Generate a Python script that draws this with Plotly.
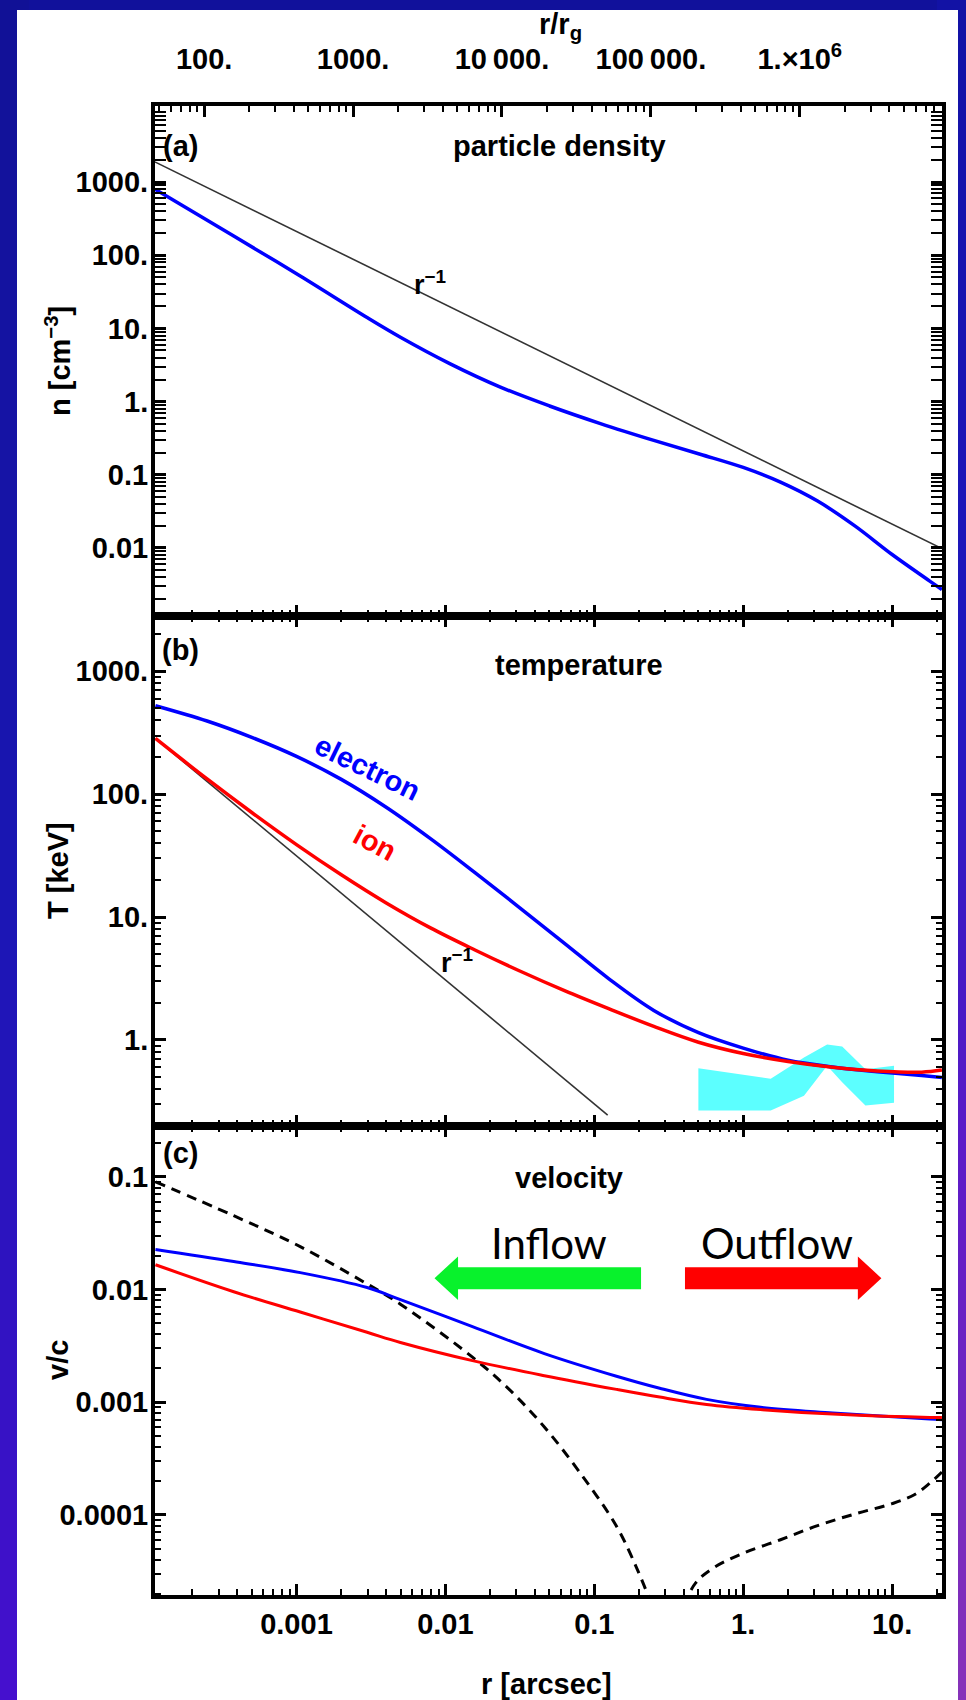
import math
import plotly.graph_objects as go

# ---------------- data ----------------
# (a) particle density  n [cm^-3]  vs  r [arcsec]
r_dens = [1.13e-4, 3.79e-4, 1.06e-3, 2.98e-3, 4.99e-3, 1.07e-2, 2.34e-2, 5.01e-2, 0.110,
          0.251, 0.514, 1.0, 1.78, 3.16, 5.62, 10.0, 17.8, 21.6]
n_dens = [791, 183, 52.1, 14.1, 7.59, 3.31, 1.58, 0.871, 0.501,
          0.295, 0.191, 0.126, 0.0794, 0.0437, 0.0200, 0.00813, 0.00355, 0.00269]
r_pl_a = [1.12e-4, 21.6]          # r^-1 reference line
n_pl_a = [1890, 0.0098]

# (b) temperature  T [keV]
r_temp = [1.13e-4, 2.51e-4, 5.01e-4, 1.0e-3, 2.0e-3, 3.98e-3, 7.94e-3, 1.58e-2, 3.16e-2,
          6.31e-2, 0.126, 0.251, 0.501, 1.0, 2.0, 3.98, 7.94, 15.8, 21.6]
T_elec = [525, 394, 290, 203, 132, 78.7, 43.5, 23.0, 11.9,
          6.11, 3.13, 1.74, 1.148, 0.859, 0.684, 0.603, 0.552, 0.513, 0.495]
T_ion = [284, 133, 71.0, 38.9, 22.1, 13.1, 8.17, 5.40, 3.64,
         2.52, 1.79, 1.29, 0.959, 0.776, 0.668, 0.600, 0.560, 0.547, 0.569]
r_pl_b = [1.13e-4, 0.123]          # r^-1 reference line
T_pl_b = [284, 0.245]
r_obs = [0.50, 1.53, 2.56, 3.66, 4.62, 6.62, 10.3]     # observed band (cyan)
T_obs_hi = [0.590, 0.484, 0.719, 0.918, 0.887, 0.578, 0.618]
T_obs_lo = [0.267, 0.267, 0.352, 0.618, 0.453, 0.293, 0.309]

# (c) velocity  v/c
r_vel = [1.13e-4, 3.79e-4, 1.06e-3, 2.98e-3, 4.99e-3, 1.52e-2, 4.62e-2, 0.141, 0.275,
         0.568, 1.31, 3.99, 17.9, 21.6]
v_blue = [0.0226, 0.0177, 0.0141, 0.0104, 0.00813, 0.00468, 0.00270, 0.00170, 0.00133,
          0.00106, 0.000902, 0.000804, 0.000708, 0.000700]
v_red = [0.01656, 0.00955, 0.00631, 0.00417, 0.00339, 0.00234, 0.00172, 0.00130, 0.00111,
         0.000955, 0.000861, 0.000785, 0.000733, 0.000733]
r_in = [1.13e-4, 3.79e-4, 1.06e-3, 2.98e-3, 4.99e-3, 1.52e-2, 2.65e-2, 4.62e-2, 8.07e-2,
        0.141, 0.197, 0.240]
v_in = [0.0902, 0.0451, 0.0240, 0.0112, 0.00741, 0.00251, 0.00132, 0.000603, 0.000234,
        7.94e-5, 3.16e-5, 1.66e-5]
r_out = [0.398, 0.481, 0.631, 1.0, 1.78, 3.16, 5.62, 10.0, 14.1, 17.9, 21.6]
v_out = [1.58e-5, 2.51e-5, 3.39e-5, 4.57e-5, 6.03e-5, 8.04e-5, 1.02e-4, 1.26e-4, 1.51e-4,
         1.91e-4, 2.40e-4]
r_transition = 0.275

# ticks / labels
x_tickvals = [0.001, 0.01, 0.1, 1, 10]
x_ticktext = ["0.001", "0.01", "0.1", "1.", "10."]
top_tickvals = [1e2, 1e3, 1e4, 1e5, 1e6]
top_ticktext = ["100.", "1000.", "10\u2009000.", "100\u2009000.", "1.\u00d710<sup>6</sup>"]
rg_offset_dex = 5.62           # log10(r/r_g) - log10(r/arcsec)
ya_tickvals = [0.01, 0.1, 1, 10, 100, 1000]
ya_ticktext = ["0.01", "0.1", "1.", "10.", "100.", "1000."]
yb_tickvals = [1, 10, 100, 1000]
yb_ticktext = ["1.", "10.", "100.", "1000."]
yc_tickvals = [1e-4, 1e-3, 1e-2, 0.1]
yc_ticktext = ["0.0001", "0.001", "0.01", "0.1"]

# ---------------- layout geometry ----------------
W, H = 966, 1700
XL, XR = 155, 942
PANELS = [(106, 616), (616, 1126), (1126, 1595)]
x_range = [-3.95, 1.335]
ya_range = [-2.93, 4.04]
yb_range = [-0.70, 3.45]
yc_range = [-4.71, -0.55]

FONT = "Liberation Sans, Arial, sans-serif"
tickfont = dict(family=FONT, size=29, color="black", weight="bold")


def minor_vals(lo, hi):
    out = []
    for e in range(math.floor(lo) - 1, math.ceil(hi) + 1):
        for k in range(2, 10):
            v = k * 10 ** e
            if lo <= math.log10(v) <= hi:
                out.append(v)
    return out


def ydom(p):
    t, b = p
    return [1 - b / H, 1 - t / H]


xdom = [XL / W, XR / W]
curve = dict(shape="spline", smoothing=1.0)

fig = go.Figure()

# cyan observed band
fig.add_trace(go.Scatter(x=r_obs + r_obs[::-1], y=T_obs_hi + T_obs_lo[::-1], fill="toself",
                         fillcolor="#5CFFFF", line=dict(width=0), mode="lines",
                         xaxis="x2", yaxis="y2", hoverinfo="skip"))
# reference power laws
fig.add_trace(go.Scatter(x=r_pl_a, y=n_pl_a, mode="lines", line=dict(color="#333333", width=1.6),
                         xaxis="x", yaxis="y"))
fig.add_trace(go.Scatter(x=r_pl_b, y=T_pl_b, mode="lines", line=dict(color="#333333", width=1.6),
                         xaxis="x2", yaxis="y2"))
# curves
fig.add_trace(go.Scatter(x=r_dens, y=n_dens, mode="lines", line=dict(color="#0000FF", width=3.5, **curve),
                         xaxis="x", yaxis="y"))
fig.add_trace(go.Scatter(x=r_temp, y=T_elec, mode="lines", line=dict(color="#0000FF", width=3.5, **curve),
                         xaxis="x2", yaxis="y2"))
fig.add_trace(go.Scatter(x=r_temp, y=T_ion, mode="lines", line=dict(color="#FF0000", width=3.5, **curve),
                         xaxis="x2", yaxis="y2"))
fig.add_trace(go.Scatter(x=r_in, y=v_in, mode="lines",
                         line=dict(color="black", width=3, dash="10px,7px", **curve),
                         xaxis="x3", yaxis="y3"))
fig.add_trace(go.Scatter(x=r_out, y=v_out, mode="lines",
                         line=dict(color="black", width=3, dash="10px,7px", **curve),
                         xaxis="x3", yaxis="y3"))
fig.add_trace(go.Scatter(x=r_vel, y=v_blue, mode="lines", line=dict(color="#0000FF", width=3, **curve),
                         xaxis="x3", yaxis="y3"))
fig.add_trace(go.Scatter(x=r_vel, y=v_red, mode="lines", line=dict(color="#FF0000", width=3, **curve),
                         xaxis="x3", yaxis="y3"))

# inflow / outflow arrows (annotation glyphs, log-space geometry)
ay, head_h, shaft_h = -1.90, 0.193, 0.098


def arrow(x_tail, x_headbase, x_tip):
    xs = [x_tip, x_headbase, x_headbase, x_tail, x_tail, x_headbase, x_headbase, x_tip]
    ys = [ay, ay + head_h, ay + shaft_h, ay + shaft_h, ay - shaft_h, ay - shaft_h, ay - head_h, ay]
    return [10 ** v for v in xs], [10 ** v for v in ys]


gx, gy = arrow(-0.686, -1.915, -2.073)
fig.add_trace(go.Scatter(x=gx, y=gy, fill="toself", fillcolor="#08F22C", line=dict(width=0),
                         mode="lines", xaxis="x3", yaxis="y3", hoverinfo="skip"))
rx, ry = arrow(-0.391, 0.770, 0.928)
fig.add_trace(go.Scatter(x=rx, y=ry, fill="toself", fillcolor="#FF0000", line=dict(width=0),
                         mode="lines", xaxis="x3", yaxis="y3", hoverinfo="skip"))

# invisible trace to carry the top r/r_g axis
fig.add_trace(go.Scatter(x=[1e3], y=[1], mode="markers", marker=dict(opacity=0),
                         xaxis="x4", yaxis="y", hoverinfo="skip"))

xminor = minor_vals(*x_range)


def xaxis(anchor, labels, mirror):
    return dict(type="log", range=x_range, domain=xdom, anchor=anchor,
                showline=True, linewidth=4, linecolor="black", mirror=mirror,
                ticks="inside", ticklen=11, tickwidth=3, tickcolor="black",
                tickmode="array", tickvals=x_tickvals, ticktext=x_ticktext,
                showticklabels=labels, tickfont=tickfont, showgrid=False, zeroline=False,
                minor=dict(tickmode="array", tickvals=xminor, ticks="inside", ticklen=6,
                           tickwidth=2, tickcolor="black", showgrid=False))


def yaxis(anchor, rng, dom, tv, tt):
    return dict(type="log", range=rng, domain=dom, anchor=anchor,
                showline=True, linewidth=4, linecolor="black", mirror="allticks",
                ticks="inside", ticklen=11, tickwidth=3, tickcolor="black",
                tickmode="array", tickvals=tv, ticktext=tt, tickfont=tickfont,
                ticklabelstandoff=-3,
                showgrid=False, zeroline=False,
                minor=dict(tickmode="array", tickvals=minor_vals(*rng), ticks="inside", ticklen=6,
                           tickwidth=2, tickcolor="black", showgrid=False))


top_range = [x_range[0] + rg_offset_dex, x_range[1] + rg_offset_dex]

fig.update_layout(
    width=W, height=H, margin=dict(l=0, r=0, t=0, b=0),
    paper_bgcolor="rgb(17,17,155)", plot_bgcolor="rgba(0,0,0,0)",
    showlegend=False,
    xaxis=xaxis("y", False, True),
    xaxis2=xaxis("y2", False, "allticks"),
    xaxis3=xaxis("y3", True, "allticks"),
    xaxis4=dict(type="log", range=top_range, overlaying="x", side="top", anchor="y",
                showline=False, ticks="inside", ticklen=11, tickwidth=3, tickcolor="black",
                tickmode="array", tickvals=top_tickvals, ticktext=top_ticktext,
                tickfont=tickfont, ticklabelstandoff=30, showgrid=False, zeroline=False,
                minor=dict(tickmode="array", tickvals=minor_vals(*top_range), ticks="inside",
                           ticklen=6, tickwidth=2, tickcolor="black", showgrid=False)),
    yaxis=yaxis("x", ya_range, ydom(PANELS[0]), ya_tickvals, ya_ticktext),
    yaxis2=yaxis("x2", yb_range, ydom(PANELS[1]), yb_tickvals, yb_ticktext),
    yaxis3=yaxis("x3", yc_range, ydom(PANELS[2]), yc_tickvals, yc_ticktext),
)

# ---------------- background: gradient border + white card ----------------
shapes = []


def lerp_stops(stops, y):
    for (y0, c0), (y1, c1) in zip(stops, stops[1:]):
        if y0 <= y <= y1:
            t = (y - y0) / (y1 - y0)
            return "rgb(%d,%d,%d)" % tuple(round(a + (b - a) * t) for a, b in zip(c0, c1))
    return "rgb(%d,%d,%d)" % stops[-1][1]


left_stops = [(0, (17, 17, 150)), (900, (26, 22, 180)), (1700, (70, 16, 206))]
right_stops = [(0, (18, 18, 165)), (700, (32, 24, 192)), (1150, (92, 26, 200)), (1700, (135, 50, 185))]
step = 20
for yy in range(0, H, step):
    y0p, y1p = 1 - (yy + step) / H, 1 - yy / H
    shapes.append(dict(type="rect", xref="paper", yref="paper", x0=0, x1=0.03, y0=y0p, y1=y1p,
                       fillcolor=lerp_stops(left_stops, yy + step / 2), line=dict(width=0), layer="below"))
    shapes.append(dict(type="rect", xref="paper", yref="paper", x0=0.97, x1=1, y0=y0p, y1=y1p,
                       fillcolor=lerp_stops(right_stops, yy + step / 2), line=dict(width=0), layer="below"))
shapes.append(dict(type="rect", xref="paper", yref="paper", x0=17 / W, x1=958 / W, y0=0, y1=1 - 10 / H,
                   fillcolor="white", line=dict(width=0), layer="below"))
# inflow/outflow transition radius
shapes.append(dict(type="line", xref="x3", yref="y3 domain", x0=math.log10(r_transition),
                   x1=math.log10(r_transition), y0=0.012, y1=0.988, line=dict(color="black", width=3)))
fig.update_layout(shapes=shapes)

# ---------------- text ----------------
ann = []


def txt(text, x, y, xref, yref, size=29, color="black", angle=0, family=FONT, weight="bold", **kw):
    d = dict(text=text, x=x, y=y, xref=xref, yref=yref, showarrow=False, textangle=angle,
             xanchor="center", yanchor="middle",
             font=dict(family=family, size=size, color=color, weight=weight))
    d.update(kw)
    ann.append(d)


txt("r/r<sub>g</sub>", 560 / W, 1 - 26 / H, "paper", "paper")
txt("n [cm<sup>\u22123</sup>]", 58 / W, 1 - 361 / H, "paper", "paper", angle=-90)
txt("T [keV]", 58 / W, 1 - 871 / H, "paper", "paper", angle=-90)
txt("v/c", 58 / W, 1 - 1360 / H, "paper", "paper", angle=-90)
txt("r [arcsec]", 546 / W, 1 - 1684 / H, "paper", "paper")

txt("(a)", -3.78, 3.5, "x", "y")
txt("particle density", -1.235, 3.5, "x", "y")
txt("r<sup>\u22121</sup>", -2.10, 1.62, "x", "y", size=27)

txt("(b)", -3.78, 3.17, "x2", "y2")
txt("temperature", -1.1, 3.05, "x2", "y2")
txt("electron", -2.52, 2.21, "x2", "y2", color="#0000FF", angle=26)
txt("ion", -2.47, 1.60, "x2", "y2", color="#FF0000", angle=28)
txt("r<sup>\u22121</sup>", -1.92, 0.64, "x2", "y2", size=27)

txt("(c)", -3.78, -0.79, "x3", "y3")
txt("velocity", -1.17, -1.015, "x3", "y3")
txt("Inflow", -1.306, -1.59, "x3", "y3", size=42, family="Lato, Open Sans, sans-serif", weight="normal")
txt("Outflow", 0.226, -1.59, "x3", "y3", size=42, family="Lato, Open Sans, sans-serif", weight="normal")

fig.update_layout(annotations=ann)

fig.write_html("out.html")
